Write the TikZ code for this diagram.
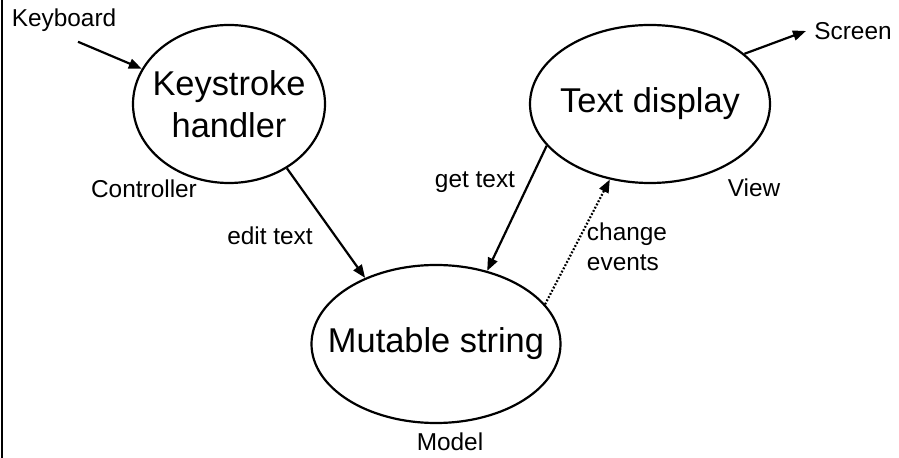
\documentclass[tikz,border=0pt]{standalone}
\usepackage{fontspec}
\setmainfont{Liberation Sans}
\usetikzlibrary{shapes, arrows.meta, positioning}

\newcommand{\bubtext}[1]{\makebox[0pt]{#1}}

\begin{document}
\begin{tikzpicture}[x=0.5pt, y=-0.5pt,
    bubble/.style={draw, ellipse, line width=1.1pt, inner sep=0pt,
        font=\fontsize{17.2}{21}\selectfont, align=center},
    lbl/.style={font=\fontsize{12.2}{15}\selectfont, inner sep=1pt, align=left},
    arr/.style={line width=1.1pt, -{Triangle[length=6.5pt, width=5pt]}}]

\useasboundingbox (0,0) rectangle (899,458);
\draw[line width=0.6pt] (2,0) -- (2,458);

\node[bubble,
    minimum width=96pt, minimum height=79pt] at (229,104) (keys) {\bubtext{Keystroke}\\\bubtext{handler}};

\node[bubble,
    minimum width=120pt, minimum height=79pt] at (650,104) (disp) {\bubtext{Text display}};

\node[bubble,
    minimum width=124.5pt, minimum height=79pt] at (436,344) (mut) {\bubtext{Mutable string}};

\node[lbl] at (64,20) (kbd) {Keyboard};
\node[lbl] at (853,31) (scr) {Screen};
\node[lbl] at (144,189) (ctrl) {Controller};
\node[lbl] at (754,188) (view) {View};
\node[lbl] at (450,442) (model) {Model};
\node[lbl] at (270,236) (edit) {edit text};
\node[lbl] at (475,182) (get) {get text};
\node[lbl] at (627,247) (chg) {change\\events};

\draw[arr] ([shift={(14,8)}]kbd.south) -- (keys.158);
\draw[arr] (disp.28) -- ([xshift=-3pt]scr.west);
\draw[arr] (keys.-48) -- (mut.137);
\draw[arr] (disp.202) -- (mut.55);
\draw[arr, dash pattern=on 0.9pt off 0.9pt] (mut.20) -- (disp.242);

\end{tikzpicture}
\end{document}
